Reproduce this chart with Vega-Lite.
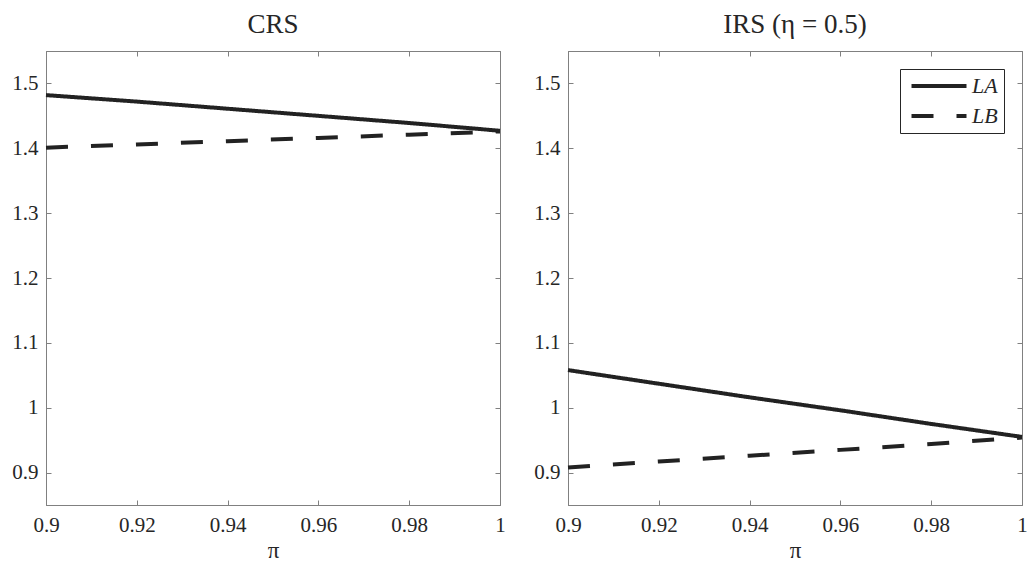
{
  "$schema": "https://vega.github.io/schema/vega-lite/v6.json",
  "background": "white",
  "padding": {"left": 11, "top": 10, "right": 5, "bottom": 5},
  "spacing": 24,
  "datasets": {
    "d": [
      {"panel": "CRS", "series": "LA", "pi": 0.90, "value": 1.482},
      {"panel": "CRS", "series": "LA", "pi": 0.92, "value": 1.472},
      {"panel": "CRS", "series": "LA", "pi": 0.94, "value": 1.461},
      {"panel": "CRS", "series": "LA", "pi": 0.96, "value": 1.450},
      {"panel": "CRS", "series": "LA", "pi": 0.98, "value": 1.439},
      {"panel": "CRS", "series": "LA", "pi": 1.00, "value": 1.427},
      {"panel": "CRS", "series": "LB", "pi": 0.90, "value": 1.401},
      {"panel": "CRS", "series": "LB", "pi": 0.92, "value": 1.406},
      {"panel": "CRS", "series": "LB", "pi": 0.94, "value": 1.411},
      {"panel": "CRS", "series": "LB", "pi": 0.96, "value": 1.416},
      {"panel": "CRS", "series": "LB", "pi": 0.98, "value": 1.421},
      {"panel": "CRS", "series": "LB", "pi": 1.00, "value": 1.426},
      {"panel": "IRS", "series": "LA", "pi": 0.90, "value": 1.058},
      {"panel": "IRS", "series": "LA", "pi": 0.92, "value": 1.037},
      {"panel": "IRS", "series": "LA", "pi": 0.94, "value": 1.016},
      {"panel": "IRS", "series": "LA", "pi": 0.96, "value": 0.996},
      {"panel": "IRS", "series": "LA", "pi": 0.98, "value": 0.975},
      {"panel": "IRS", "series": "LA", "pi": 1.00, "value": 0.955},
      {"panel": "IRS", "series": "LB", "pi": 0.90, "value": 0.908},
      {"panel": "IRS", "series": "LB", "pi": 0.92, "value": 0.917},
      {"panel": "IRS", "series": "LB", "pi": 0.94, "value": 0.926},
      {"panel": "IRS", "series": "LB", "pi": 0.96, "value": 0.935},
      {"panel": "IRS", "series": "LB", "pi": 0.98, "value": 0.944},
      {"panel": "IRS", "series": "LB", "pi": 1.00, "value": 0.954}
    ]
  },
  "config": {
    "view": {"stroke": "#808080", "strokeWidth": 1},
    "font": "Times New Roman",
    "axis": {
      "grid": false,
      "domainColor": "#808080",
      "tickColor": "#808080",
      "tickSize": -5,
      "labelFont": "Times New Roman",
      "labelFontSize": 21,
      "labelColor": "#262626",
      "titleFont": "Times New Roman",
      "titleFontWeight": "normal",
      "titleColor": "#262626"
    },
    "legend": {"labelFont": "Times New Roman"},
    "title": {"font": "Times New Roman", "fontSize": 27, "fontWeight": "normal", "color": "#262626", "offset": 12}
  },
  "resolve": {"legend": {"strokeDash": "independent"}},
  "hconcat": [
    {
      "width": 454,
      "height": 454,
      "title": "CRS",
      "data": {"name": "d"},
      "transform": [{"filter": "datum.panel === 'CRS'"}],
      "layer": [
        {
          "mark": {"type": "line", "strokeWidth": 4, "color": "#222222"},
          "encoding": {
            "x": {"field": "pi", "type": "quantitative", "scale": {"domain": [0.9, 1]},
                  "axis": {"orient": "bottom", "values": [0.9, 0.92, 0.94, 0.96, 0.98, 1], "format": "~g", "title": "π", "titleFontSize": 23, "labelFont": "Times New Roman", "titleFont": "Times New Roman", "labelPadding": 14, "titlePadding": 4, "labelFlush": false}},
            "y": {"field": "value", "type": "quantitative", "scale": {"domain": [0.85, 1.55]},
                  "axis": {"orient": "left", "values": [0.9, 1, 1.1, 1.2, 1.3, 1.4, 1.5], "format": "~g", "title": null, "labelFont": "Times New Roman", "labelPadding": 13}},
            "strokeDash": {"field": "series", "type": "nominal", "scale": {"domain": ["LA", "LB"], "range": [[1, 0], [22, 23]]}, "legend": null},
            "order": {"field": "pi"}
          }
        },
        {
          "mark": {"type": "line", "opacity": 0},
          "encoding": {
            "x": {"field": "pi", "type": "quantitative", "axis": {"orient": "top", "values": [0.9, 0.92, 0.94, 0.96, 0.98, 1], "labels": false, "title": null}},
            "y": {"field": "value", "type": "quantitative", "axis": {"orient": "right", "values": [0.9, 1, 1.1, 1.2, 1.3, 1.4, 1.5], "labels": false, "title": null}}
          }
        }
      ],
      "resolve": {"axis": {"x": "independent", "y": "independent"}}
    },
    {
      "width": 454,
      "height": 454,
      "title": "IRS (η = 0.5)",
      "data": {"name": "d"},
      "transform": [{"filter": "datum.panel === 'IRS'"}],
      "layer": [
        {
          "mark": {"type": "line", "strokeWidth": 4, "color": "#222222"},
          "encoding": {
            "x": {"field": "pi", "type": "quantitative", "scale": {"domain": [0.9, 1]},
                  "axis": {"orient": "bottom", "values": [0.9, 0.92, 0.94, 0.96, 0.98, 1], "format": "~g", "title": "π", "titleFontSize": 23, "labelFont": "Times New Roman", "titleFont": "Times New Roman", "labelPadding": 14, "titlePadding": 4, "labelFlush": false}},
            "y": {"field": "value", "type": "quantitative", "scale": {"domain": [0.85, 1.55]},
                  "axis": {"orient": "left", "values": [0.9, 1, 1.1, 1.2, 1.3, 1.4, 1.5], "format": "~g", "title": null, "labelFont": "Times New Roman", "labelPadding": 13}},
            "strokeDash": {"field": "series", "type": "nominal", "scale": {"domain": ["LA", "LB"], "range": [[1, 0], [22, 23]]},
                  "legend": {"orient": "top-right", "offset": 18, "title": null, "symbolType": "M-1,0H9", "symbolSize": 121, "symbolStrokeWidth": 4, "symbolStrokeColor": "#222222", "labelOffset": 44, "labelFont": "Times New Roman", "labelFontStyle": "italic", "labelFontSize": 22, "labelColor": "#262626", "strokeColor": "#262626", "fillColor": "white", "padding": 6, "rowPadding": 8}},
            "order": {"field": "pi"}
          }
        },
        {
          "mark": {"type": "line", "opacity": 0},
          "encoding": {
            "x": {"field": "pi", "type": "quantitative", "axis": {"orient": "top", "values": [0.9, 0.92, 0.94, 0.96, 0.98, 1], "labels": false, "title": null}},
            "y": {"field": "value", "type": "quantitative", "axis": {"orient": "right", "values": [0.9, 1, 1.1, 1.2, 1.3, 1.4, 1.5], "labels": false, "title": null}}
          }
        }
      ],
      "resolve": {"axis": {"x": "independent", "y": "independent"}}
    }
  ]
}
